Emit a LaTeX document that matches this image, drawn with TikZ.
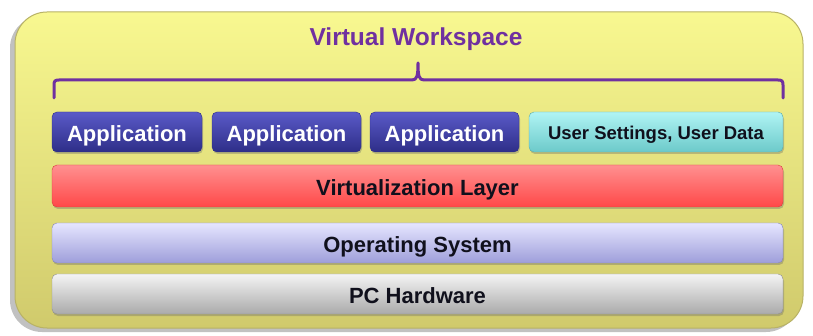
\documentclass[tikz,border=0pt]{standalone}
\usepackage{fontspec}
\setmainfont{Liberation Sans}
\usetikzlibrary{shadows}
\definecolor{ytop}{HTML}{F8F890}
\definecolor{ybot}{HTML}{D0CA6C}
\definecolor{yedge}{HTML}{B8B266}
\definecolor{ttl}{HTML}{7030A0}
\definecolor{apptop}{HTML}{5A5AC8}
\definecolor{appbot}{HTML}{2E2E88}
\definecolor{usrtop}{HTML}{B0F4F4}
\definecolor{usrbot}{HTML}{6CCACA}
\definecolor{redtop}{HTML}{FF9090}
\definecolor{redbot}{HTML}{FF4848}
\definecolor{ostop}{HTML}{E6E6FF}
\definecolor{osbot}{HTML}{9E9EDA}
\definecolor{pctop}{HTML}{F4F4F4}
\definecolor{pcbot}{HTML}{AAAAAA}
\definecolor{txt}{HTML}{10101C}
\tikzset{
  barbox/.style={rectangle, rounded corners=5pt, inner sep=0pt, anchor=center,
    drop shadow={shadow xshift=1pt, shadow yshift=-2pt, opacity=0.35, fill=black!60}},
  appbox/.style={barbox, top color=apptop, bottom color=appbot, draw=appbot,
    text=white, font=\fontsize{22}{22}\selectfont\bfseries, minimum height=40pt,
    text height=19.5pt, text depth=0pt},
  usrbox/.style={barbox, top color=usrtop, bottom color=usrbot, draw=usrbot!85!black,
    text=txt, font=\fontsize{18.5}{18.5}\selectfont\bfseries, minimum height=40pt,
    text height=16pt, text depth=0pt},
  layerbox/.style={barbox, text=txt, font=\fontsize{22}{22}\selectfont\bfseries, minimum width=731pt,
    text height=19pt, text depth=0pt},
}
\begin{document}
\begin{tikzpicture}[x=1pt,y=-1pt]
\useasboundingbox (0,0) rectangle (813,336);
% outer workspace
\path[rounded corners=32pt, top color=ytop, bottom color=ybot, draw=yedge, line width=1pt,
  drop shadow={shadow xshift=-5pt, shadow yshift=-4pt, opacity=0.35, fill=black!70}]
  (15,12) rectangle (803,328);
% title
\node[text=ttl, font=\fontsize{24.5}{24.5}\selectfont\bfseries] (title) at (416,39) {Virtual Workspace};
% brace
\draw[ttl, line width=3pt, line join=round, line cap=round]
  (54,98) -- (54,85) .. controls (54,81) and (55,80) .. (59,80)
  -- (412,80) .. controls (417,80) and (418,76) .. (418,63)
  .. controls (418,76) and (419,80) .. (424,80)
  -- (778,80) .. controls (782,80) and (783,81) .. (783,85) -- (783,98);
% applications
\node[appbox, minimum width=150pt] (app1) at (127,132) {Application};
\node[appbox, minimum width=149pt] (app2) at (286.5,132) {Application};
\node[appbox, minimum width=149pt] (app3) at (444.5,132) {Application};
\node[usrbox, minimum width=254pt] (usr) at (656,132) {User Settings, User Data};
% layers
\node[layerbox, top color=redtop, bottom color=redbot, draw=redbot!85!black, minimum height=42pt] (virt) at (417.5,186) {Virtualization Layer};
\node[layerbox, top color=ostop, bottom color=osbot, draw=osbot!85!black, minimum height=40pt] (os) at (417.5,243) {Operating System};
\node[layerbox, top color=pctop, bottom color=pcbot, draw=pcbot!85!black, minimum height=40pt] (pc) at (417.5,294) {PC Hardware};
\end{tikzpicture}
\end{document}
